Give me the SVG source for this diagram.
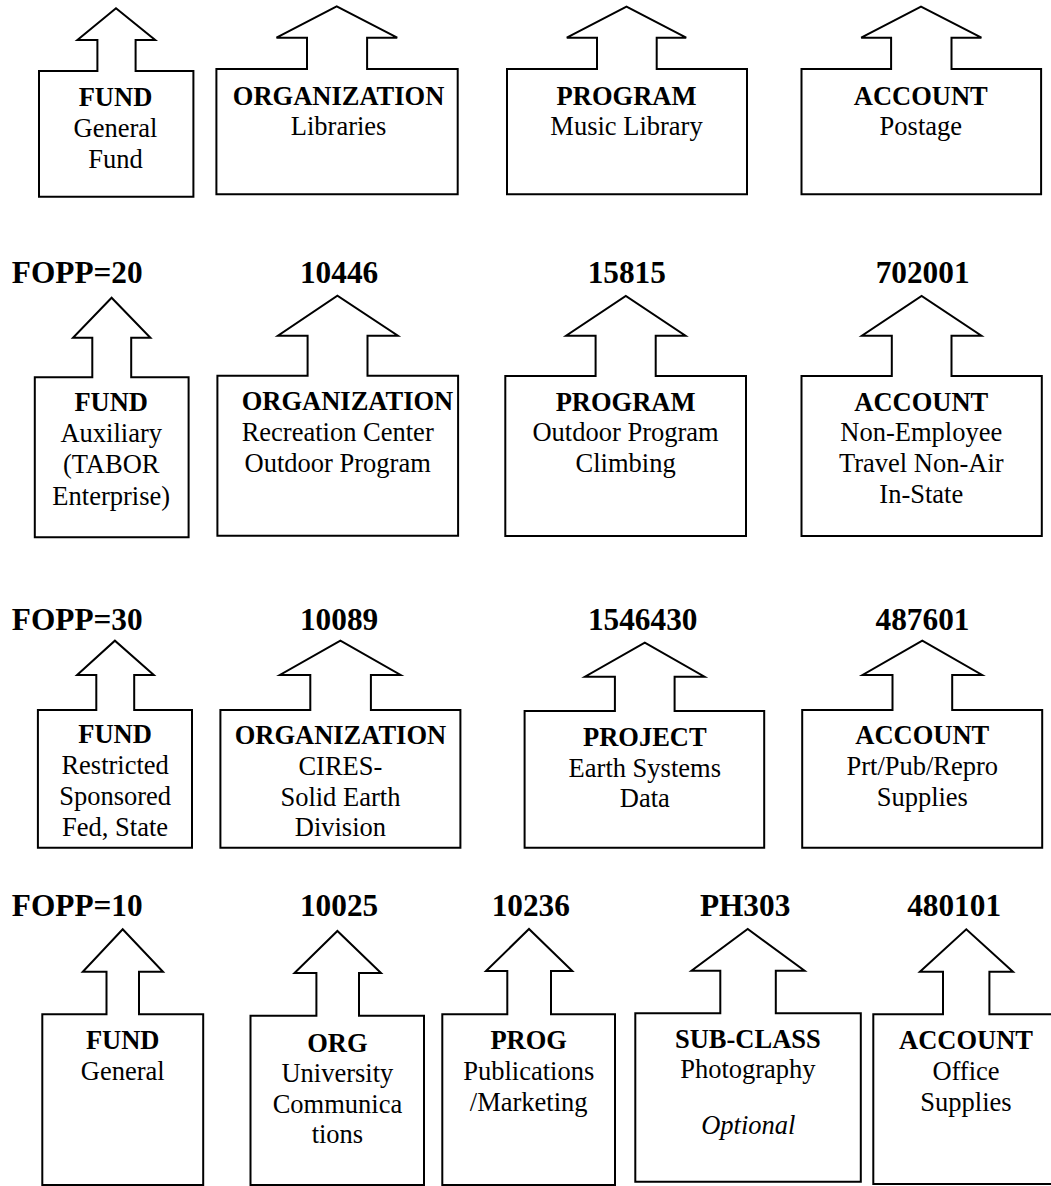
<svg xmlns="http://www.w3.org/2000/svg" width="1051" height="1186" viewBox="0 0 1051 1186">
<style>
.s{fill:#fff;stroke:#000;stroke-width:2;stroke-linejoin:miter}
text{font-family:"Liberation Serif","Times New Roman",serif;fill:#000;text-anchor:middle}
.h{font-weight:bold;font-size:31.3px}
.hl{font-weight:bold;font-size:31.3px;text-anchor:start}
.b{font-weight:bold;font-size:26.5px}
.t{font-size:26.5px}
.i{font-size:26.5px;font-style:italic}
</style>
<rect width="1051" height="1186" fill="#fff"/>
<g id="connectors"/>
<!-- Row 1 -->
<g id="r1-fund">
<polygon class="s" points="39,71 97.4,71 97.4,40 77.4,40 116,8.3 155.2,40 135.6,40 135.6,71 193.4,71 193.4,196.7 39,196.7"/>
<text class="b" x="115.5" y="106">FUND</text>
<text class="t" x="115.5" y="137.3">General</text>
<text class="t" x="115.5" y="168.3">Fund</text>
</g>
<g id="r1-org">
<polygon class="s" points="216.4,69 307,69 307,37.7 276.5,37.7 336.7,6.3 397.2,37.7 367.1,37.7 367.1,69 457.7,69 457.7,194.3 216.4,194.3"/>
<text class="b" x="338.6" y="105">ORGANIZATION</text>
<text class="t" x="338.6" y="135">Libraries</text>
</g>
<g id="r1-program">
<polygon class="s" points="507,69 597,69 597,37.7 566.8,37.7 626.5,6.7 686.2,37.7 656.7,37.7 656.7,69 747,69 747,194.3 507,194.3"/>
<text class="b" x="626.5" y="104.5">PROGRAM</text>
<text class="t" x="626.5" y="135">Music Library</text>
</g>
<g id="r1-account">
<polygon class="s" points="801.5,69 891.1,69 891.1,37.7 861.2,37.7 921,6.7 981.4,37.7 951.5,37.7 951.5,69 1041.1,69 1041.1,194.3 801.5,194.3"/>
<text class="b" x="920.8" y="104.5">ACCOUNT</text>
<text class="t" x="920.8" y="135">Postage</text>
</g>
<!-- Row 2 -->
<g id="r2-fund">
<text class="hl" x="11.8" y="283.3">FOPP=20</text>
<polygon class="s" points="34.8,377.3 92.3,377.3 92.3,337.7 73,337.7 111.6,297.7 150.4,337.7 131.2,337.7 131.2,377.3 188.6,377.3 188.6,537.3 34.8,537.3"/>
<text class="b" x="111.2" y="411">FUND</text>
<text class="t" x="111.2" y="442.3">Auxiliary</text>
<text class="t" x="111.2" y="473.3">(TABOR</text>
<text class="t" x="111.2" y="505">Enterprise)</text>
</g>
<g id="r2-org">
<text class="h" x="339.1" y="283.3">10446</text>
<polygon class="s" points="217.4,375.7 307.6,375.7 307.6,335.7 277.9,335.7 337.4,295.7 397.9,335.7 367.5,335.7 367.5,375.7 458.1,375.7 458.1,535.7 217.4,535.7"/>
<text class="b" x="241.7" y="410" style="text-anchor:start">ORGANIZATION</text>
<text class="t" x="337.7" y="440.7">Recreation Center</text>
<text class="t" x="337.7" y="471.7">Outdoor Program</text>
</g>
<g id="r2-program">
<text class="h" x="626.8" y="283.3">15815</text>
<polygon class="s" points="505.3,376 595.6,376 595.6,335.7 566.1,335.7 625.8,296 685.5,335.7 655.7,335.7 655.7,376 746,376 746,536 505.3,536"/>
<text class="b" x="625.6" y="410.7">PROGRAM</text>
<text class="t" x="625.6" y="440.7">Outdoor Program</text>
<text class="t" x="625.6" y="471.7">Climbing</text>
</g>
<g id="r2-account">
<text class="h" x="922.6" y="283.3">702001</text>
<polygon class="s" points="801.5,376 891.8,376 891.8,335.7 861.9,335.7 921.6,296 981.4,335.7 951.5,335.7 951.5,376 1041.8,376 1041.8,536 801.5,536"/>
<text class="b" x="921.3" y="410.7">ACCOUNT</text>
<text class="t" x="921.3" y="441">Non-Employee</text>
<text class="t" x="921.3" y="472">Travel Non-Air</text>
<text class="t" x="921.3" y="503.3">In-State</text>
</g>
<!-- Row 3 -->
<g id="r3-fund">
<text class="hl" x="11.8" y="630">FOPP=30</text>
<polygon class="s" points="37.9,710 96.3,710 96.3,675 77.1,675 114.9,640.7 153.8,675 134.2,675 134.2,710 192,710 192,847.7 37.9,847.7"/>
<text class="b" x="115.1" y="743.3">FUND</text>
<text class="t" x="115.1" y="774">Restricted</text>
<text class="t" x="115.1" y="805">Sponsored</text>
<text class="t" x="115.1" y="835.7">Fed, State</text>
</g>
<g id="r3-org">
<text class="h" x="339.1" y="630">10089</text>
<polygon class="s" points="220.4,710 310.3,710 310.3,675 279.9,675 340.4,640.7 400.6,675 370.9,675 370.9,710 460.4,710 460.4,847.7 220.4,847.7"/>
<text class="b" x="340.4" y="744">ORGANIZATION</text>
<text class="t" x="340.4" y="775">CIRES-</text>
<text class="t" x="340.4" y="806">Solid Earth</text>
<text class="t" x="340.4" y="835.7">Division</text>
</g>
<g id="r3-project">
<text class="h" x="642.7" y="630">1546430</text>
<polygon class="s" points="524.6,711 614.9,711 614.9,676.7 585,676.7 644.8,642.7 704.5,676.7 674.6,676.7 674.6,711 764.2,711 764.2,847.7 524.6,847.7"/>
<text class="b" x="644.8" y="745.7">PROJECT</text>
<text class="t" x="644.8" y="776.7">Earth Systems</text>
<text class="t" x="644.8" y="807.3">Data</text>
</g>
<g id="r3-account">
<text class="h" x="922.5" y="630">487601</text>
<polygon class="s" points="802.2,710 892.5,710 892.5,675 862.6,675 922.3,640.7 982.1,675 952.2,675 952.2,710 1042.2,710 1042.2,847.7 802.2,847.7"/>
<text class="b" x="922.3" y="744">ACCOUNT</text>
<text class="t" x="922.3" y="775">Prt/Pub/Repro</text>
<text class="t" x="922.3" y="806">Supplies</text>
</g>
<!-- Row 4 -->
<g id="r4-fund">
<text class="hl" x="11.8" y="915.7">FOPP=10</text>
<polygon class="s" points="42.3,1014.3 106.5,1014.3 106.5,971.7 82.8,971.7 122.7,929.3 163,971.7 139,971.7 139,1014.3 203.2,1014.3 203.2,1185 42.3,1185"/>
<text class="b" x="122.7" y="1049.3">FUND</text>
<text class="t" x="122.7" y="1080">General</text>
</g>
<g id="r4-org">
<text class="h" x="339.1" y="915.7">10025</text>
<polygon class="s" points="250.5,1015.7 316.4,1015.7 316.4,973 294.5,973 337.4,931 381,973 359,973 359,1015.7 424,1015.7 424,1185 250.5,1185"/>
<text class="b" x="337.4" y="1051.7">ORG</text>
<text class="t" x="337.4" y="1081.7">University</text>
<text class="t" x="337.4" y="1112.7">Communica</text>
<text class="t" x="337.4" y="1143.3">tions</text>
</g>
<g id="r4-prog">
<text class="h" x="530.8" y="915.7">10236</text>
<polygon class="s" points="442.3,1014.3 507.3,1014.3 507.3,971 486,971 529,929 572.3,971 551,971 551,1014.3 615,1014.3 615,1185 442.3,1185"/>
<text class="b" x="528.7" y="1049.3">PROG</text>
<text class="t" x="528.7" y="1080">Publications</text>
<text class="t" x="528.7" y="1111">/Marketing</text>
</g>
<g id="r4-subclass">
<text class="h" x="745.1" y="915.7">PH303</text>
<polygon class="s" points="635.3,1013.3 720.3,1013.3 720.3,970.7 691.5,970.7 747.7,929 804.6,970.7 775.8,970.7 775.8,1013.3 860.8,1013.3 860.8,1181.7 635.3,1181.7"/>
<text class="b" x="747.9" y="1047.7">SUB-CLASS</text>
<text class="t" x="747.9" y="1078.3">Photography</text>
<text class="i" x="748.3" y="1134">Optional</text>
</g>
<g id="r4-account">
<text class="h" x="954.1" y="915.7">480101</text>
<polygon class="s" points="873.3,1014.3 943,1014.3 943,971.7 919.9,971.7 966.3,929.3 1013,971.7 989.4,971.7 989.4,1014.3 1060,1014.3 1060,1184 873.3,1184"/>
<text class="b" x="966" y="1049.3">ACCOUNT</text>
<text class="t" x="966" y="1080">Office</text>
<text class="t" x="966" y="1110.7">Supplies</text>
</g>
</svg>
